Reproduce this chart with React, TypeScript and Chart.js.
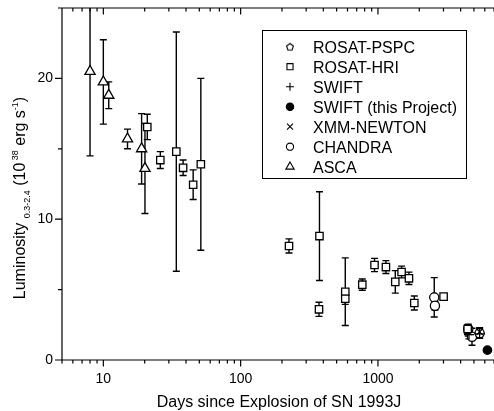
import React, { useEffect, useRef } from 'react';
import { Chart, registerables } from 'chart.js';
import { drawPoint } from 'chart.js/helpers';

Chart.register(...registerables);

const FONT = '"Liberation Sans", Arial, Helvetica, sans-serif';

// ---------------- data (days since explosion, luminosity 1e38 erg/s, 1-sigma error) ----------------
const pspcDays: number[] = [];
const pspcLum: number[] = [];
const pspcErr: number[] = [];

const hriDays = [20.9, 26.0, 34.0, 38.1, 45.1, 51.3, 225, 375, 372, 578, 578, 769, 944, 1143, 1337, 1486, 1682, 1840, 3006, 4500];
const hriLum = [16.55, 14.2, 14.8, 13.65, 12.45, 13.9, 8.1, 8.8, 3.6, 4.85, 4.35, 5.35, 6.75, 6.6, 5.55, 6.25, 5.8, 4.05, 4.5, 2.2];
const hriErr = [0.9, 0.6, 8.5, 0.55, 1.05, 6.1, 0.5, 3.15, 0.5, 2.4, 0.4, 0.4, 0.47, 0.46, 0.8, 0.42, 0.44, 0.5, 0.2, 0.3];

const swiftDays = [4600, 5500];
const swiftLum = [1.8, 1.85];
const swiftErr = [0.3, 0.3];

const swiftProjDays = [6270];
const swiftProjLum = [0.7];
const swiftProjErr = [0];

const xmmDays = [4550, 5500];
const xmmLum = [2.0, 2.0];
const xmmErr = [0.3, 0.3];

const chandraDays = [2570, 2600, 4550, 4840, 5500];
const chandraLum = [4.45, 3.85, 2.2, 1.65, 1.9];
const chandraErr = [1.4, 0.3, 0.35, 0.6, 0.35];

const ascaDays = [8.0, 10.0, 10.95, 15.0, 19.0, 20.1];
const ascaLum = [20.5, 19.75, 18.8, 15.7, 15.0, 13.6];
const ascaErr = [6.0, 3.0, 0.95, 0.7, 2.5, 3.2];

const xMajorTicks = [10, 100, 1000];
const xMinorTicks = [5, 6, 7, 8, 9, 20, 30, 40, 50, 60, 70, 80, 90, 200, 300, 400, 500, 600, 700, 800, 900, 2000, 3000, 4000, 5000, 6000, 7000];
const yMajorTicks = [0, 10, 20];
const yMinorTicks = [5, 15, 25];

const xTitle = 'Days since Explosion of SN 1993J';

function makePentagon(r: number, lw: number): HTMLCanvasElement {
  const size = Math.ceil(2 * r + lw * 2 + 2);
  const c = document.createElement('canvas');
  c.width = size;
  c.height = size;
  const g = c.getContext('2d')!;
  const cx = size / 2;
  const cy = size / 2 + r * 0.1;
  g.beginPath();
  for (let k = 0; k < 5; k++) {
    const a = -Math.PI / 2 + (k * 2 * Math.PI) / 5;
    const px = cx + r * Math.cos(a);
    const py = cy + r * Math.sin(a);
    if (k === 0) g.moveTo(px, py);
    else g.lineTo(px, py);
  }
  g.closePath();
  g.fillStyle = '#fff';
  g.fill();
  g.lineWidth = lw;
  g.strokeStyle = '#000';
  g.stroke();
  return c;
}

function zeroPadding(s: any) {
  s.paddingTop = 0;
  s.paddingBottom = 0;
  s.paddingLeft = 0;
  s.paddingRight = 0;
}

export default function App() {
  const ref = useRef<HTMLCanvasElement>(null);

  useEffect(() => {
    const canvas = ref.current!;
    const pentagon = makePentagon(5, 1.3);
    const pentagonSmall = makePentagon(3.6, 1.1);

    const series: any[] = [
      { label: 'ROSAT-PSPC', days: pspcDays, lum: pspcLum, err: pspcErr, style: pentagon, lstyle: pentagonSmall, r: 5, lr: 4, fill: '#fff' },
      { label: 'ROSAT-HRI', days: hriDays, lum: hriLum, err: hriErr, style: 'rect', lstyle: 'rect', r: 5.2, lr: 4.3, fill: '#fff' },
      { label: 'SWIFT', days: swiftDays, lum: swiftLum, err: swiftErr, style: 'cross', lstyle: 'cross', r: 5, lr: 4, fill: '#fff' },
      { label: 'SWIFT (this Project)', days: swiftProjDays, lum: swiftProjLum, err: swiftProjErr, style: 'circle', lstyle: 'circle', r: 4.2, lr: 3.7, fill: '#000' },
      { label: 'XMM-NEWTON', days: xmmDays, lum: xmmLum, err: xmmErr, style: 'crossRot', lstyle: 'crossRot', r: 4.6, lr: 4.2, fill: '#fff' },
      { label: 'CHANDRA', days: chandraDays, lum: chandraLum, err: chandraErr, style: 'circle', lstyle: 'circle', r: 4.6, lr: 3.6, fill: '#fff' },
      { label: 'ASCA', days: ascaDays, lum: ascaLum, err: ascaErr, style: 'triangle', lstyle: 'triangle', r: 5.9, lr: 4.8, fill: '#fff' },
    ];

    const datasets = series.map((s) => ({
      label: s.label,
      data: s.days.map((d: number, i: number) => ({ x: d, y: s.lum[i] })),
      errors: s.err,
      pointStyle: s.style,
      pointRadius: s.r,
      pointHoverRadius: s.r,
      pointBackgroundColor: s.fill,
      pointBorderColor: '#000',
      pointBorderWidth: 1.3,
      showLine: false,
    }));

    const errorBars = {
      id: 'errorBars',
      beforeDatasetsDraw(chart: any) {
        const { ctx, chartArea, scales } = chart;
        ctx.save();
        ctx.beginPath();
        ctx.rect(chartArea.left, chartArea.top, chartArea.right - chartArea.left, chartArea.bottom - chartArea.top);
        ctx.clip();
        ctx.strokeStyle = '#000';
        ctx.lineWidth = 1.4;
        chart.data.datasets.forEach((ds: any) => {
          ds.data.forEach((p: any, i: number) => {
            const e = ds.errors[i];
            if (!e) return;
            const x = scales.x.getPixelForValue(p.x);
            const y1 = scales.y.getPixelForValue(p.y + e);
            const y2 = scales.y.getPixelForValue(p.y - e);
            ctx.beginPath();
            ctx.moveTo(x, y1);
            ctx.lineTo(x, y2);
            ctx.moveTo(x - 3.5, y1);
            ctx.lineTo(x + 3.5, y1);
            ctx.moveTo(x - 3.5, y2);
            ctx.lineTo(x + 3.5, y2);
            ctx.stroke();
          });
        });
        ctx.restore();
      },
    };

    const frame = {
      id: 'frame',
      afterDraw(chart: any) {
        const { ctx, chartArea, scales } = chart;
        const { left, right, top, bottom } = chartArea;
        ctx.save();
        ctx.strokeStyle = '#000';
        ctx.lineWidth = 1.2;
        ctx.beginPath();
        ctx.moveTo(left, top);
        ctx.lineTo(right, top);
        ctx.moveTo(left, top);
        ctx.lineTo(left, bottom);
        ctx.lineTo(right, bottom);
        xMinorTicks.forEach((v) => {
          const x = scales.x.getPixelForValue(v);
          ctx.moveTo(x, bottom);
          ctx.lineTo(x, bottom + 3.5);
          ctx.moveTo(x, top);
          ctx.lineTo(x, top + 3.5);
        });
        xMajorTicks.forEach((v) => {
          const x = scales.x.getPixelForValue(v);
          ctx.moveTo(x, bottom);
          ctx.lineTo(x, bottom + 6.5);
          ctx.moveTo(x, top);
          ctx.lineTo(x, top + 6.5);
        });
        yMinorTicks.forEach((v) => {
          const y = scales.y.getPixelForValue(v);
          ctx.moveTo(left - 4, y);
          ctx.lineTo(left, y);
        });
        yMajorTicks.forEach((v) => {
          const y = scales.y.getPixelForValue(v);
          ctx.moveTo(left - 7, y);
          ctx.lineTo(left, y);
        });
        ctx.stroke();

        // x title
        ctx.fillStyle = '#000';
        ctx.font = `16px ${FONT}`;
        ctx.textAlign = 'center';
        ctx.textBaseline = 'alphabetic';
        ctx.fillText(xTitle, (left + right) / 2 + 1, 407);

        // y title with sub/superscripts
        const segs = [
          { t: 'Luminosity', size: 16, dy: 0 },
          { t: ' ', size: 16, dy: 0 },
          { t: '0.3-2.4', size: 9, dy: 5 },
          { t: ' (10', size: 16, dy: 0 },
          { t: ' 38', size: 9, dy: -7 },
          { t: ' erg s', size: 16, dy: 0 },
          { t: '-1', size: 9, dy: -7 },
          { t: ')', size: 16, dy: 0 },
        ];
        let total = 0;
        segs.forEach((s) => {
          ctx.font = `${s.size}px ${FONT}`;
          total += ctx.measureText(s.t).width;
        });
        ctx.save();
        ctx.translate(24.5, 198);
        ctx.rotate(-Math.PI / 2);
        ctx.textAlign = 'left';
        let cx = -total / 2;
        segs.forEach((s) => {
          ctx.font = `${s.size}px ${FONT}`;
          ctx.fillText(s.t, cx, s.dy);
          cx += ctx.measureText(s.t).width;
        });
        ctx.restore();

        // legend
        const lx = 262.5, ly = 30.5, lw = 204, lh = 148;
        ctx.fillStyle = '#fff';
        ctx.fillRect(lx, ly, lw, lh);
        ctx.lineWidth = 1;
        ctx.strokeStyle = '#000';
        ctx.strokeRect(lx, ly, lw, lh);
        series.forEach((s, i) => {
          const cy = 46.7 + i * 20;
          ctx.fillStyle = s.fill;
          ctx.strokeStyle = '#000';
          ctx.lineWidth = 1.1;
          drawPoint(ctx, { pointStyle: s.lstyle, radius: s.lr, rotation: 0, borderWidth: 1.1 } as any, 290, cy);
          ctx.fillStyle = '#000';
          ctx.font = `16px ${FONT}`;
          ctx.textAlign = 'left';
          ctx.textBaseline = 'alphabetic';
          ctx.fillText(s.label, 313, cy + 5.8);
        });
        ctx.restore();
      },
    };

    const chart = new Chart(canvas, {
      type: 'scatter',
      data: { datasets } as any,
      options: {
        responsive: false,
        animation: false,
        devicePixelRatio: 1,
        layout: { autoPadding: false, padding: { top: 8, right: 0, left: 0, bottom: 0 } },
        plugins: { legend: { display: false }, tooltip: { enabled: false } },
        scales: {
          x: {
            type: 'logarithmic',
            position: 'bottom',
            min: 5,
            max: 7000,
            grid: { display: false, drawTicks: false },
            border: { display: false },
            ticks: {
              autoSkip: false,
              maxRotation: 0,
              padding: 11,
              color: '#000',
              font: { family: FONT, size: 14 },
              callback: (v: any) => (xMajorTicks.includes(Number(v)) ? String(v) : ''),
            },
            afterFit: (s: any) => {
              s.height = 51;
              zeroPadding(s);
            },
          },
          y: {
            type: 'linear',
            min: 0,
            max: 25,
            grid: { display: false, drawTicks: false },
            border: { display: false },
            ticks: {
              stepSize: 5,
              autoSkip: false,
              padding: 9,
              color: '#000',
              font: { family: FONT, size: 14 },
              callback: (v: any) => (yMajorTicks.includes(Number(v)) ? String(v) : ''),
            },
            afterFit: (s: any) => {
              s.width = 62;
              zeroPadding(s);
            },
          },
        },
      } as any,
      plugins: [errorBars, frame],
    });
    return () => chart.destroy();
  }, []);

  return (
    <div style={{ position: 'absolute', left: 0, top: 0, width: 494, height: 411, background: '#fff' }}>
      <canvas ref={ref} width={494} height={411} style={{ display: 'block', width: 494, height: 411 }} />
    </div>
  );
}
